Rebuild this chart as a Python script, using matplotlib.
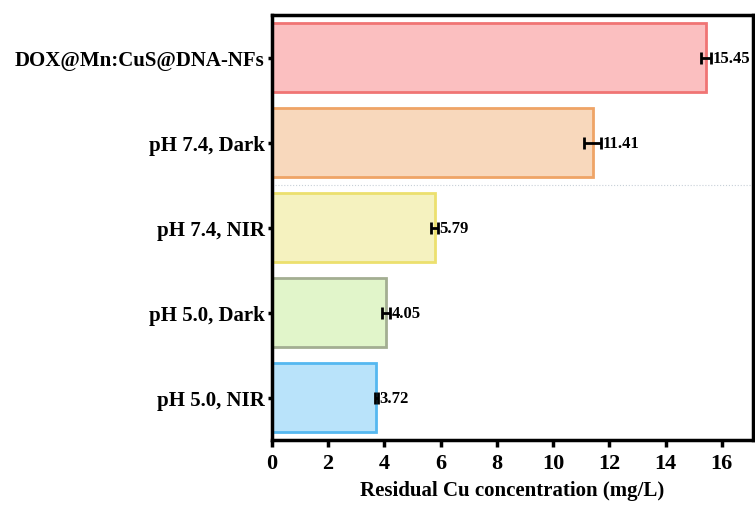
import matplotlib
matplotlib.use("Agg")
import matplotlib.pyplot as plt

categories = ["pH 5.0, NIR", "pH 5.0, Dark", "pH 7.4, NIR", "pH 7.4, Dark", "DOX@Mn:CuS@DNA-NFs"]
values = [3.72, 4.05, 5.79, 11.41, 15.45]
errors = [0.05, 0.14, 0.12, 0.30, 0.18]
labels = ["3.72", "4.05", "5.79", "11.41", "15.45"]
fills = ["#B9E3FA", "#E1F5CA", "#F5F2BF", "#F8D8BC", "#FBBFC0"]
edges = ["#55B8F0", "#A3AE92", "#ECE06E", "#EFA466", "#F07474"]

plt.rcParams['font.family'] = ['Liberation Serif', 'DejaVu Serif']
plt.rcParams['font.weight'] = 'bold'

fig = plt.figure(figsize=(7.55, 5.06), dpi=100)
ax = fig.add_axes([0.360, 0.128, 0.637, 0.840])

ypos = list(range(len(categories)))
ax.barh(ypos, values, height=0.81, color=fills, edgecolor=edges, linewidth=2, zorder=2)
ax.errorbar(values, ypos, xerr=errors, fmt='none', ecolor='black', elinewidth=2,
            capsize=4, capthick=2, zorder=3)
for y, v, e, t in zip(ypos, values, errors, labels):
    ax.text(v + e + 0.06, y, t, va='center', ha='left', fontsize=12, fontweight='bold')

ax.axhline(2.5, color='#C8D0D8', linestyle=':', linewidth=0.8, zorder=1)

ax.set_xlim(0, 17.1)
ax.set_ylim(-0.5, 4.5)
ax.set_xticks(range(0, 17, 2))
ax.set_yticks(ypos)
ax.set_yticklabels(categories, fontsize=15, fontweight='bold')
ax.tick_params(axis='x', labelsize=16, width=2.5, length=5, direction='out', pad=4)
ax.tick_params(axis='y', width=2.5, length=3, direction='out', pad=2)
for lab in ax.get_xticklabels():
    lab.set_fontweight('bold')
ax.set_xlabel("Residual Cu concentration (mg/L)", fontsize=15, fontweight='bold', labelpad=5)
for s in ax.spines.values():
    s.set_linewidth(2.5)

fig.savefig("out.png", dpi=100)
